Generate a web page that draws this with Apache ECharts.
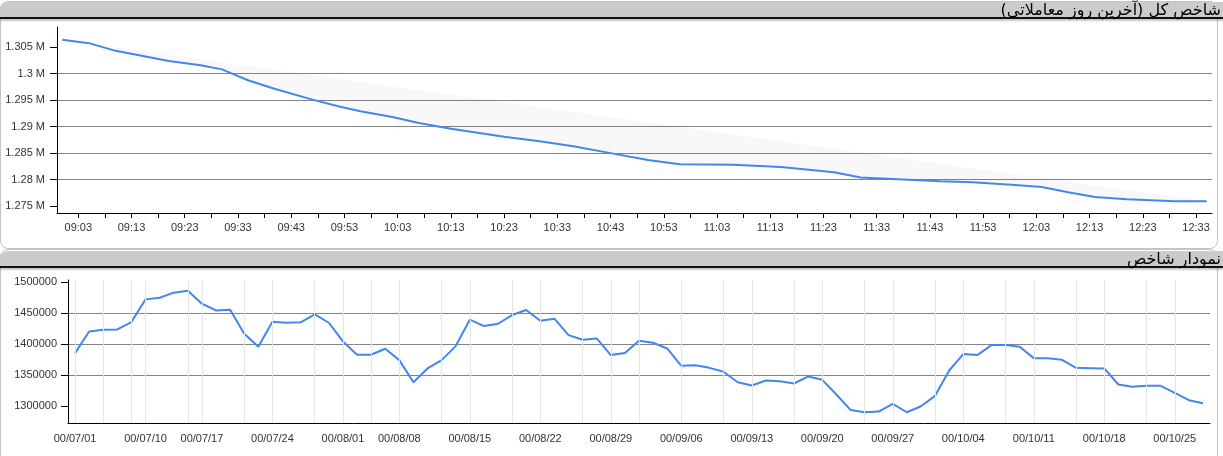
<!DOCTYPE html>
<html><head><meta charset="utf-8">
<script src="https://cdn.jsdelivr.net/npm/echarts@6/dist/echarts.min.js"></script>
<style>
html,body{margin:0;padding:0;width:1223px;height:456px;overflow:hidden;background:#fff;}
.panel{position:absolute;left:0;width:1216px;border:1px solid #c4c4c4;border-radius:8px;background:#fff;}
#p1{top:1px;height:246px;}
#p2{top:249px;height:240px;}
.hdr{position:absolute;left:0;width:1221px;height:15px;background:#cbcbcb;border-bottom:2px solid #111;border-top-left-radius:8px;box-shadow:0 2px 2px rgba(0,0,0,0.22);direction:rtl;text-align:right;font-family:"DejaVu Sans",sans-serif;font-weight:normal;font-size:16px;line-height:16px;color:#000;padding-right:2px;z-index:3;white-space:nowrap;overflow:visible;}
#h1{top:2px;}
#h2{top:251px;}
#chart{position:absolute;left:0;top:0;width:1223px;height:456px;z-index:2;}
</style></head>
<body>
<div class="panel" id="p1"></div>
<div class="panel" id="p2"></div>
<div class="hdr" id="h1">شاخص کل (آخرین روز معاملاتی)</div>
<div class="hdr" id="h2">نمودار شاخص</div>
<div id="chart"></div>
<script>
// ---- Top chart: intraday index (last trading day) ----
const topTimes = ['09:00','09:05','09:10','09:20','09:26','09:30','09:35','09:40','09:47','09:52',
  '09:56','10:02','10:07','10:13','10:23','10:30','10:36','10:43','10:50','10:56',
  '11:06','11:15','11:25','11:30','11:45','11:51','11:59','12:04','12:09','12:14',
  '12:20','12:29','12:35'];
const topValues = [1306400,1305750,1304300,1302400,1301600,1300800,1298700,1297100,1295100,1293800,
  1292900,1291800,1290700,1289600,1288100,1287200,1286300,1285000,1283700,1282900,
  1282800,1282400,1281400,1280400,1279700,1279500,1279000,1278600,1277600,1276700,
  1276300,1275900,1275900];
const topLabelTimes = ['09:03','09:13','09:23','09:33','09:43','09:53','10:03','10:13','10:23','10:33',
  '10:43','10:53','11:03','11:13','11:23','11:33','11:43','11:53','12:03','12:13','12:23','12:33'];
const topYTicks = [1275000,1280000,1285000,1290000,1295000,1300000,1305000];

// ---- Bottom chart: index history ----
const bottomDates = ['00/07/01','00/07/03','00/07/04','00/07/05','00/07/07',
  '00/07/10','00/07/11','00/07/12','00/07/13',
  '00/07/17','00/07/18','00/07/19','00/07/20','00/07/21',
  '00/07/24','00/07/25','00/07/26','00/07/27','00/07/28',
  '00/08/01','00/08/02','00/08/03','00/08/04',
  '00/08/08','00/08/09','00/08/10','00/08/11','00/08/12',
  '00/08/15','00/08/16','00/08/17','00/08/18','00/08/19',
  '00/08/22','00/08/23','00/08/24','00/08/25','00/08/26',
  '00/08/29','00/08/30','00/09/01','00/09/02','00/09/03',
  '00/09/06','00/09/07','00/09/08','00/09/09','00/09/10',
  '00/09/13','00/09/14','00/09/15','00/09/16','00/09/17',
  '00/09/20','00/09/21','00/09/22','00/09/23','00/09/24',
  '00/09/27','00/09/28','00/09/29','00/09/30','00/10/01',
  '00/10/04','00/10/05','00/10/06','00/10/07','00/10/08',
  '00/10/11','00/10/12','00/10/13','00/10/14','00/10/15',
  '00/10/18','00/10/19','00/10/20','00/10/21','00/10/22',
  '00/10/25','00/10/26','00/10/27'];
const bottomValues = [1385500,1420400,1423100,1423700,1435500,1472000,1474700,1482800,1486000,1465000,
  1454300,1455400,1416700,1395700,1436000,1434400,1435000,1447900,1434400,1404300,
  1382800,1382800,1392500,1374200,1338700,1360800,1374200,1396800,1439300,1429000,
  1432800,1446800,1454800,1437600,1440900,1414500,1407000,1409100,1382300,1385500,
  1405400,1402200,1393000,1365100,1366100,1361800,1355400,1338700,1333300,1341400,
  1340300,1336600,1347900,1342500,1318800,1294100,1290300,1291400,1303800,1290300,
  1300000,1316700,1357500,1383900,1382300,1398400,1398400,1395700,1377400,1377400,
  1374700,1361800,1361300,1360800,1335000,1331200,1332800,1332800,1321500,1309700,
  1304800];
const bottomLabelDates = ['00/07/01','00/07/10','00/07/17','00/07/24','00/08/01','00/08/08','00/08/15',
  '00/08/22','00/08/29','00/09/06','00/09/13','00/09/20','00/09/27','00/10/04','00/10/11','00/10/18','00/10/25'];
const bottomGridDates = ['00/07/04','00/07/07','00/07/13','00/07/20','00/07/27','00/08/03','00/08/11',
  '00/08/18','00/08/25','00/09/01','00/09/09','00/09/16','00/09/23','00/09/30','00/10/07','00/10/14','00/10/21'];
const bottomYTicks = [1300000,1350000,1400000,1450000,1500000];

// per-minute category axis for the intraday chart
const pad = n => (n < 10 ? '0' : '') + n;
const fmtMin = m => pad(Math.floor(m / 60)) + ':' + pad(m % 60);
const toMin = s => parseInt(s.slice(0, 2), 10) * 60 + parseInt(s.slice(3), 10);
const minuteCats = [];
for (let m = toMin('08:59'); m <= toMin('12:36'); m++) minuteCats.push(fmtMin(m));

const FONT = '"Liberation Sans", Arial, sans-serif';
const LBL = '#333';
const BLUE = '#4287ec';
const GRID = '#858585';

const chart = echarts.init(document.getElementById('chart'));
chart.setOption({
  animation: false,
  grid: [
    { left: 57, top: 27, right: 11, bottom: 243 },
    { left: 68, top: 280, right: 13, bottom: 33 }
  ],
  xAxis: [
    {
      type: 'category', gridIndex: 0, data: minuteCats, boundaryGap: false,
      axisLine: { lineStyle: { color: '#000', width: 1 } },
      axisTick: { interval: (i, v) => toMin(v) % 5 === 3, length: 5, lineStyle: { color: '#000' } },
      axisLabel: { interval: (i, v) => topLabelTimes.includes(v), margin: 9, color: LBL, fontSize: 11, fontFamily: FONT },
      splitLine: { show: false }
    },
    {
      type: 'category', gridIndex: 1, data: bottomDates, boundaryGap: true,
      axisLine: { lineStyle: { color: '#000', width: 1 } },
      axisTick: { alignWithLabel: true, interval: (i, v) => bottomLabelDates.includes(v), length: 6, lineStyle: { color: '#000' } },
      axisLabel: { interval: (i, v) => bottomLabelDates.includes(v), margin: 10, color: LBL, fontSize: 11, fontFamily: FONT },
      splitLine: { show: false }
    }
  ],
  yAxis: [
    {
      type: 'value', gridIndex: 0, min: 1273700, max: 1308800, splitNumber: 7,
      axisLine: { show: true, lineStyle: { color: '#000', width: 1 } },
      axisTick: { show: true, length: 7, lineStyle: { color: '#000' }, customValues: topYTicks },
      axisLabel: { margin: 12, color: LBL, fontSize: 11, fontFamily: FONT, showMinLabel: false, showMaxLabel: false,
        formatter: v => parseFloat((v / 1e6).toFixed(3)) + ' M' },
      splitLine: { show: true, showMinLine: false, showMaxLine: false, lineStyle: { color: GRID, width: 1 } }
    },
    {
      type: 'value', gridIndex: 1, min: 1273000, max: 1503200, splitNumber: 5,
      axisLine: { show: true, lineStyle: { color: '#000', width: 1 } },
      axisTick: { show: true, length: 7, lineStyle: { color: '#000' }, customValues: bottomYTicks },
      axisLabel: { margin: 11, color: LBL, fontSize: 11, fontFamily: FONT, showMinLabel: false, showMaxLabel: false,
        formatter: v => String(v) },
      splitLine: { show: true, showMinLine: false, showMaxLine: false, lineStyle: { color: GRID, width: 1 } }
    }
  ],
  series: [
    {
      type: 'custom', xAxisIndex: 0, yAxisIndex: 0, silent: true, z: 1,
      data: topTimes.map((t, i) => [minuteCats.indexOf(t), topValues[i]]),
      renderItem: (params, api) => {
        if (params.dataIndex !== 0) return null;
        const pts = topTimes.map((t, i) => api.coord([minuteCats.indexOf(t), topValues[i]]));
        return { type: 'polygon', shape: { points: pts }, style: { fill: 'rgba(0,0,0,0.026)' } };
      }
    },
    {
      type: 'line', xAxisIndex: 0, yAxisIndex: 0, z: 3,
      data: topTimes.map((t, i) => [minuteCats.indexOf(t), topValues[i]]),
      showSymbol: false, symbol: 'none', smooth: false,
      lineStyle: { color: BLUE, width: 2 }
    },
    {
      // vertical light grid lines of the history chart
      type: 'line', xAxisIndex: 1, yAxisIndex: 1, z: 1, silent: true,
      data: bottomValues, showSymbol: false, symbol: 'none',
      lineStyle: { opacity: 0 },
      markLine: {
        silent: true, symbol: ['none', 'none'], label: { show: false },
        lineStyle: { color: '#e6e6e6', width: 1, type: 'solid' },
        emphasis: { disabled: true },
        data: bottomLabelDates.concat(bottomGridDates).map(d => ({ xAxis: d }))
      }
    },
    {
      type: 'line', xAxisIndex: 1, yAxisIndex: 1, z: 3,
      data: bottomValues,
      showSymbol: false, symbol: 'none', smooth: false,
      lineStyle: { color: BLUE, width: 2 }
    }
  ]
});
</script>
</body></html>
